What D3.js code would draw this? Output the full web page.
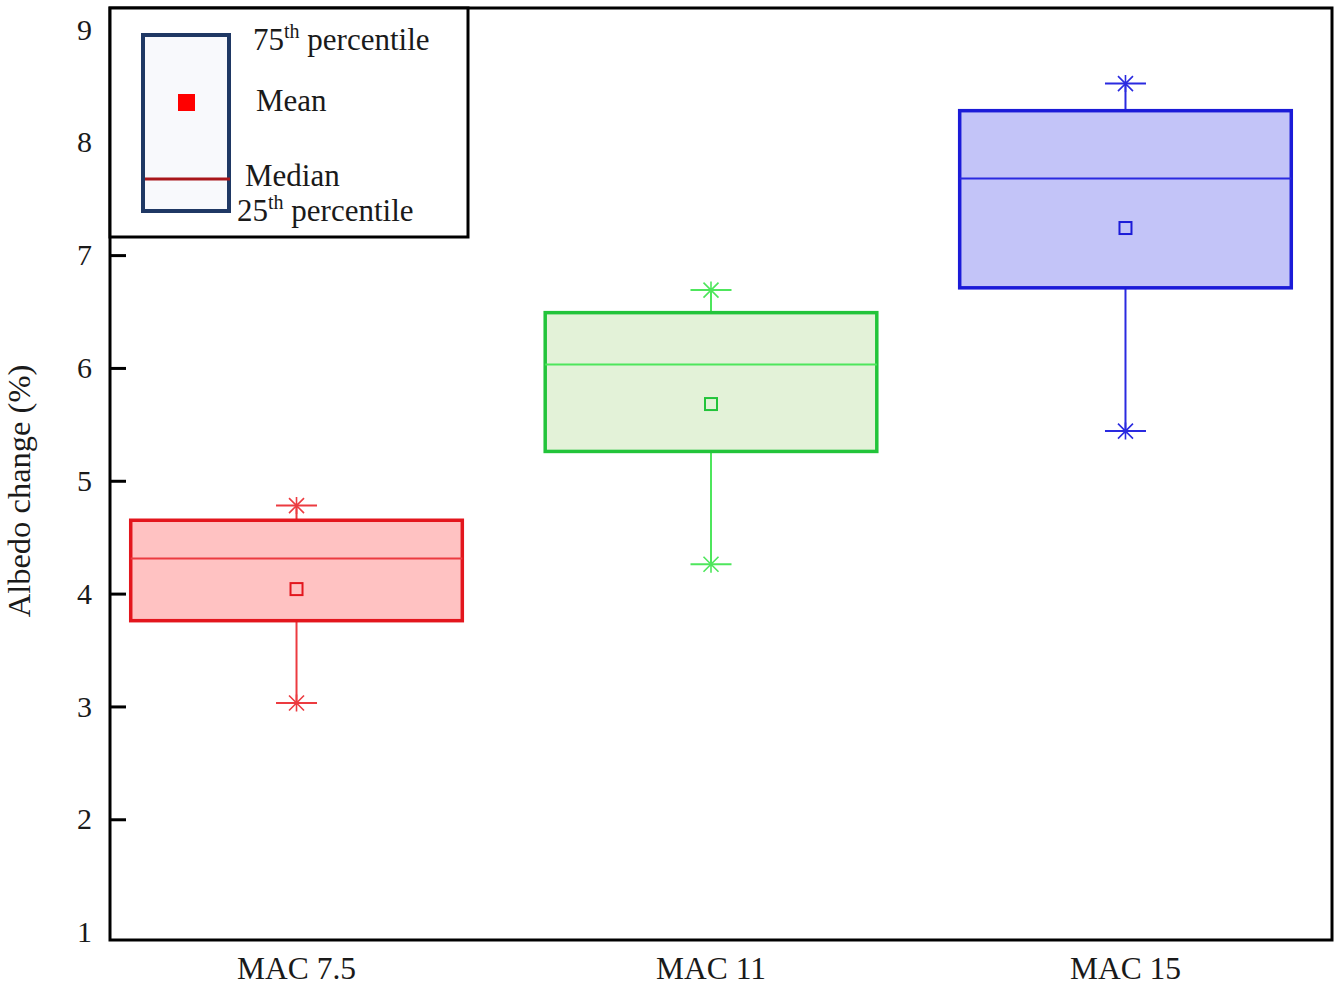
<!DOCTYPE html>
<html>
<head>
<meta charset="utf-8">
<script src="https://cdn.jsdelivr.net/npm/d3@7"></script>
<style>
  body { margin: 0; background: #fff; }
  text { font-family: "Liberation Serif", "Times New Roman", serif; fill: #1a1a1a; }
</style>
</head>
<body>
<div id="chart"></div>
<script>
// data
const categories = ["MAC 7.5", "MAC 11", "MAC 15"];
const whiskerLow = [3.03, 4.26, 5.44];
const q1 = [3.76, 5.26, 6.71];
const median = [4.31, 6.03, 7.68];
const mean = [4.04, 5.68, 7.24];
const q3 = [4.65, 6.49, 8.28];
const whiskerHigh = [4.78, 6.69, 8.52];
const yTicks = [1, 2, 3, 4, 5, 6, 7, 8, 9];

const strokeColors = ["#e3161d", "#22c43a", "#1b1bd8"];
const lineColors = ["#ec3b40", "#4ee65c", "#2a2ae0"];
const fillColors = ["#ffc2c2", "#e3f2d8", "#c3c4f8"];

const boxes = categories.map((c, i) => ({
  cat: c, lo: whiskerLow[i], q1: q1[i], med: median[i], mean: mean[i], q3: q3[i], hi: whiskerHigh[i],
  stroke: strokeColors[i], line: lineColors[i], fill: fillColors[i]
}));

const margin = { top: 8, right: 10, bottom: 50, left: 110 },
  width = 1342 - margin.left - margin.right,
  height = 990 - margin.top - margin.bottom;

const svg = d3.select("#chart").append("svg")
  .attr("width", 1342).attr("height", 990)
  .append("g")
  .attr("transform", `translate(${margin.left},${margin.top})`);

const x = d3.scalePoint().domain(categories).range([0, width - 20]).padding(0.45);
const step = x.step();
const boxW = step * 0.8;
const capW = 41;

const y = d3.scaleLinear().domain([0.93, 9.19]).range([height, 0]);

// y axis with inward ticks
const yAxis = svg.append("g")
  .call(d3.axisLeft(y).tickValues(yTicks).tickSizeInner(-16).tickSizeOuter(0).tickPadding(18));
yAxis.select(".domain").remove();
yAxis.selectAll(".tick line").attr("stroke", "#000").attr("stroke-width", 3)
  .attr("opacity", d => d === 1 ? 0 : 1);
yAxis.selectAll(".tick text").style("font-size", "30px").style("font-family", "Liberation Serif").attr("fill", "#1a1a1a");

// x labels
svg.selectAll(".xlab").data(categories).enter().append("text")
  .attr("class", "xlab")
  .attr("x", d => x(d)).attr("y", height + 39)
  .attr("text-anchor", "middle").style("font-size", "31.5px")
  .text(d => d);

// y title
svg.append("text")
  .attr("transform", `translate(${-80},${height / 2 + 17}) rotate(-90)`)
  .attr("text-anchor", "middle").style("font-size", "32.5px")
  .text("Albedo change (%)");

const g = svg.selectAll(".box").data(boxes).enter().append("g").attr("class", "box");

// whiskers
g.append("line")
  .attr("x1", d => x(d.cat)).attr("x2", d => x(d.cat))
  .attr("y1", d => y(d.lo)).attr("y2", d => y(d.q1))
  .attr("stroke", d => d.line).attr("stroke-width", 2);
g.append("line")
  .attr("x1", d => x(d.cat)).attr("x2", d => x(d.cat))
  .attr("y1", d => y(d.q3)).attr("y2", d => y(d.hi))
  .attr("stroke", d => d.line).attr("stroke-width", 2);

// caps with asterisk marks
["lo", "hi"].forEach(k => {
  g.append("line")
    .attr("x1", d => x(d.cat) - capW / 2).attr("x2", d => x(d.cat) + capW / 2)
    .attr("y1", d => y(d[k])).attr("y2", d => y(d[k]))
    .attr("stroke", d => d.line).attr("stroke-width", 2);
  g.append("path")
    .attr("d", d => {
      const cx = x(d.cat), cy = y(d[k]), r = 7.5;
      return `M${cx - r},${cy - r}L${cx + r},${cy + r}M${cx + r},${cy - r}L${cx - r},${cy + r}M${cx},${cy - r - 1}L${cx},${cy + r + 1}`;
    })
    .attr("stroke", d => d.line).attr("stroke-width", 1.6).attr("fill", "none");
});

// boxes
g.append("rect")
  .attr("x", d => x(d.cat) - boxW / 2).attr("width", boxW)
  .attr("y", d => y(d.q3)).attr("height", d => y(d.q1) - y(d.q3))
  .attr("fill", d => d.fill).attr("stroke", d => d.stroke).attr("stroke-width", 3.5);

// median
g.append("line")
  .attr("x1", d => x(d.cat) - boxW / 2).attr("x2", d => x(d.cat) + boxW / 2)
  .attr("y1", d => y(d.med)).attr("y2", d => y(d.med))
  .attr("stroke", d => d.line).attr("stroke-width", 2);

// mean
g.append("rect")
  .attr("x", d => x(d.cat) - 6).attr("y", d => y(d.mean) - 6)
  .attr("width", 12).attr("height", 12)
  .attr("fill", "none").attr("stroke", d => d.stroke).attr("stroke-width", 2);

// frame
svg.append("rect")
  .attr("x", 0).attr("y", 0).attr("width", width).attr("height", height)
  .attr("fill", "none").attr("stroke", "#000").attr("stroke-width", 3);

// legend
const leg = svg.append("g");
leg.append("rect")
  .attr("x", 0).attr("y", 0).attr("width", 358).attr("height", 229)
  .attr("fill", "#fff").attr("stroke", "#000").attr("stroke-width", 3);
leg.append("rect")
  .attr("x", 33).attr("y", 27).attr("width", 86).attr("height", 176)
  .attr("fill", "#f8f9fc").attr("stroke", "#1f3864").attr("stroke-width", 4);
leg.append("rect")
  .attr("x", 68).attr("y", 86).attr("width", 17).attr("height", 17)
  .attr("fill", "#ff0000");
leg.append("line")
  .attr("x1", 35).attr("x2", 120).attr("y1", 171).attr("y2", 171)
  .attr("stroke", "#a8161a").attr("stroke-width", 3);

function supLabel(px, py, num, rest) {
  const t = leg.append("text").attr("x", px).attr("y", py).style("font-size", "31px");
  t.append("tspan").text(num);
  t.append("tspan").attr("dy", -12).style("font-size", "20px").text("th");
  t.append("tspan").attr("dy", 12).text(" " + rest);
}
supLabel(143, 42, "75", "percentile");
leg.append("text").attr("x", 146).attr("y", 103).style("font-size", "31px").text("Mean");
leg.append("text").attr("x", 135).attr("y", 178).style("font-size", "31px").text("Median");
supLabel(127, 213, "25", "percentile");
</script>
</body>
</html>
